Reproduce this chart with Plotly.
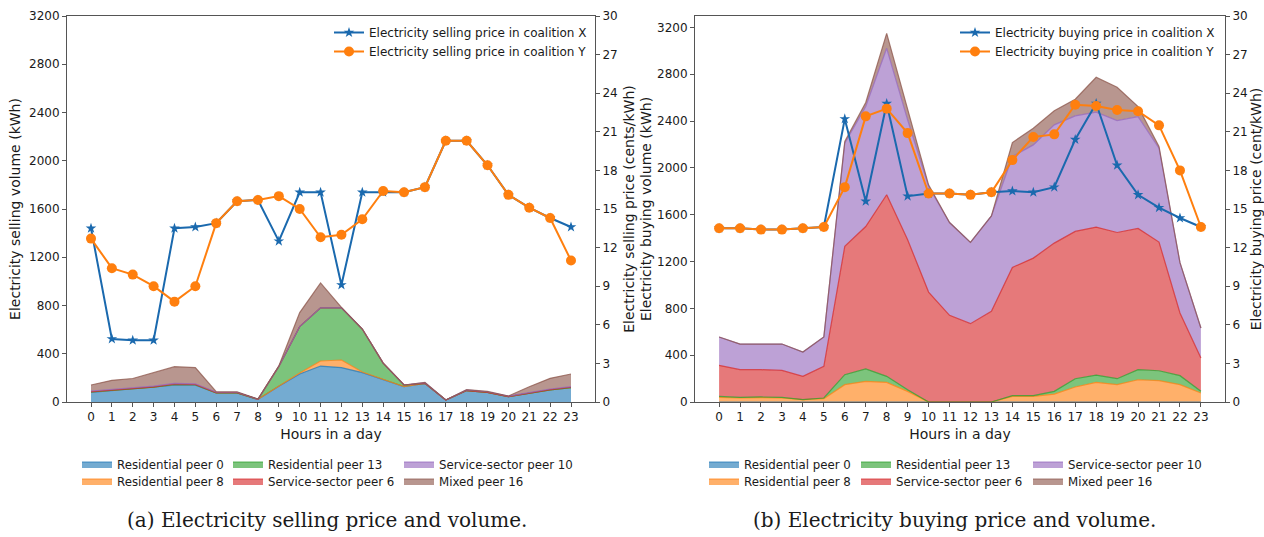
import plotly.graph_objects as go

hours = list(range(24))
hour_labels = [str(h) for h in hours]

# Prices (cents/kWh)
sell_price_x = [13.5, 4.9, 4.8, 4.8, 13.5, 13.6, 13.9, 15.6, 15.7, 12.5, 16.3, 16.3, 9.1, 16.3,
                16.3, 16.3, 16.7, 20.3, 20.3, 18.4, 16.1, 15.1, 14.3, 13.6]
sell_price_y = [12.7, 10.4, 9.9, 9.0, 7.8, 9.0, 13.9, 15.6, 15.7, 16.0, 15.0, 12.8, 13.0, 14.2,
                16.4, 16.3, 16.7, 20.3, 20.3, 18.4, 16.1, 15.1, 14.3, 11.0]
buy_price_x = [13.5, 13.5, 13.4, 13.4, 13.5, 13.6, 22.0, 15.6, 23.2, 16.0, 16.2, 16.2, 16.1, 16.3,
               16.4, 16.3, 16.7, 20.4, 23.2, 18.4, 16.1, 15.1, 14.3, 13.6]
buy_price_y = [13.5, 13.5, 13.4, 13.4, 13.5, 13.6, 16.7, 22.2, 22.8, 20.9, 16.2, 16.2, 16.1, 16.3,
               18.8, 20.6, 20.8, 23.1, 23.0, 22.7, 22.6, 21.5, 18.0, 13.6]

# Selling volumes (kWh)
sell_peer0 = [80, 95, 105, 120, 140, 140, 75, 75, 22, 130, 232, 298, 285, 243, 185, 127, 155, 17, 95, 80, 45, 72, 100, 120]
sell_peer8 = [3, 3, 3, 3, 5, 3, 0, 0, 0, 0, 8, 42, 63, 6, 0, 0, 0, 0, 0, 0, 0, 0, 0, 0]
sell_peer13 = [0, 0, 0, 0, 0, 0, 0, 0, 0, 165, 385, 440, 432, 356, 138, 14, 0, 0, 0, 0, 0, 0, 0, 0]
sell_peer6 = [3, 3, 3, 3, 5, 3, 3, 3, 0, 0, 0, 0, 0, 0, 0, 0, 0, 0, 0, 0, 0, 3, 3, 3]
sell_peer10 = [5, 5, 5, 5, 5, 5, 3, 3, 0, 0, 0, 0, 0, 0, 0, 0, 5, 0, 5, 5, 3, 5, 5, 5]
sell_peer16 = [50, 74, 79, 112, 138, 134, 4, 4, 3, 3, 116, 207, 5, 0, 0, 0, 2, 0, 2, 3, 2, 47, 88, 104]

# Buying volumes (kWh)
buy_peer0 = [0] * 24
buy_peer8 = [40, 34, 37, 34, 20, 28, 148, 176, 168, 91, 0, 0, 0, 0, 48, 48, 68, 128, 168, 148, 190, 182, 148, 77]
buy_peer13 = [8, 6, 6, 6, 0, 6, 85, 106, 51, 14, 0, 0, 0, 0, 6, 6, 23, 71, 62, 51, 86, 85, 77, 14]
buy_peer6 = [265, 236, 233, 230, 199, 270, 1096, 1217, 1551, 1281, 939, 740, 669, 774, 1095, 1175, 1266, 1258,
             1264, 1249, 1206, 1099, 535, 285]
buy_peer10 = [242, 219, 219, 225, 208, 251, 882, 1025, 1251, 1024, 902, 793, 694, 816, 948, 967, 1010, 987,
              981, 956, 956, 802, 430, 256]
buy_peer16 = [0, 0, 0, 0, 0, 0, 14, 34, 128, 85, 14, 0, 0, 0, 119, 143, 120, 142, 299, 284, 85, 14, 0, 0]

peer_names = ["Residential peer 0", "Residential peer 8", "Residential peer 13",
              "Service-sector peer 6", "Service-sector peer 10", "Mixed peer 16"]
peer_rgb = [(31, 119, 180), (255, 127, 14), (44, 160, 44), (214, 39, 40), (148, 103, 189), (140, 86, 75)]
# legend grid (matplotlib 3 columns x 2 rows, column-major)
col_of_peer = [0, 0, 1, 1, 2, 2]
row_of_peer = [0, 1, 0, 1, 0, 1]

sell_layers = [sell_peer0, sell_peer8, sell_peer13, sell_peer6, sell_peer10, sell_peer16]
buy_layers = [buy_peer0, buy_peer8, buy_peer13, buy_peer6, buy_peer10, buy_peer16]

BLUE = "#1a69ae"
ORANGE = "#ff7f0e"
AX = "#555555"
TXT = "#1a1a1a"

# plot area in pixels: left [67,595], right [695,1225], y [16,402]
ML, MR, MT, MB = 67, 39, 16, 135
W, H = 1264, 537
PW = W - ML - MR
PH = H - MT - MB


def px(x):
    return (x - ML) / PW


def py(y):
    return (H - MB - y) / PH


fig = go.Figure()

area_leg = dict(bgcolor="rgba(0,0,0,0)", borderwidth=0, font=dict(size=11.8, color=TXT),
                orientation="v", xanchor="left", yanchor="middle", traceorder="normal",
                itemwidth=30)
legend_layouts = {}
leg_idx = 3
for layers, xa, ya, grp, col_x in [
    (sell_layers, "x", "y", "sell", (77, 228, 399)),
    (buy_layers, "x2", "y3", "buy", (704, 856, 1028)),
]:
    for i, vals in enumerate(layers):
        r, g, b = peer_rgb[i]
        leg_name = f"legend{leg_idx}"
        legend_layouts[leg_name] = dict(area_leg, x=px(col_x[col_of_peer[i]]),
                                        y=py((464, 481)[row_of_peer[i]]))
        leg_idx += 1
        fig.add_trace(go.Scatter(
            x=hours, y=vals, name=peer_names[i], mode="lines",
            stackgroup=grp, xaxis=xa, yaxis=ya,
            line=dict(color=f"rgba({r},{g},{b},0.75)", width=1.2),
            fillcolor=f"rgba({r},{g},{b},0.62)",
            legend=leg_name, hoverinfo="skip",
        ))

for p_x, p_y, xa, ya, leg, word in [
    (sell_price_x, sell_price_y, "x", "y2", "legend", "selling"),
    (buy_price_x, buy_price_y, "x2", "y4", "legend2", "buying"),
]:
    fig.add_trace(go.Scatter(
        x=hours, y=p_x, name=f"Electricity {word} price in coalition X", mode="lines+markers",
        xaxis=xa, yaxis=ya, legend=leg,
        line=dict(color=BLUE, width=2), marker=dict(symbol="star", size=8, color=BLUE),
    ))
    fig.add_trace(go.Scatter(
        x=hours, y=p_y, name=f"Electricity {word} price in coalition Y", mode="lines+markers",
        xaxis=xa, yaxis=ya, legend=leg,
        line=dict(color=ORANGE, width=2), marker=dict(symbol="circle", size=10, color=ORANGE),
    ))

axis_common = dict(showline=True, linecolor=AX, linewidth=1, ticks="outside", ticklen=4,
                   tickcolor=AX, showgrid=False, zeroline=False,
                   tickfont=dict(size=12, color=TXT, family="DejaVu Sans"))
title_font = dict(size=14, color=TXT, family="DejaVu Sans")

x_common = dict(axis_common, range=[-1.15, 24.15], tickmode="array", tickvals=hours,
                ticktext=hour_labels, mirror=True,
                title=dict(text="Hours in a day", font=title_font, standoff=5))

fig.update_layout(
    width=W, height=H, paper_bgcolor="white", plot_bgcolor="white",
    margin=dict(l=ML, r=MR, t=MT, b=MB, autoexpand=False),
    font=dict(family="DejaVu Sans", size=12, color=TXT),
    xaxis=dict(x_common, domain=[0, px(595)], anchor="y"),
    xaxis2=dict(x_common, domain=[px(695), 1], anchor="y3"),
    yaxis=dict(axis_common, domain=[0, 1], anchor="x", range=[0, 3200],
               tickvals=list(range(0, 3201, 400)),
               title=dict(text="Electricity selling volume (kWh)", font=title_font, standoff=5)),
    yaxis2=dict(axis_common, overlaying="y", side="right", anchor="x", range=[0, 30],
                tickvals=list(range(0, 31, 3)),
                title=dict(text="Electricity selling price (cents/kWh)", font=title_font, standoff=7)),
    yaxis3=dict(axis_common, domain=[0, 1], anchor="x2", range=[0, 3297],
                tickvals=list(range(0, 3201, 400)),
                title=dict(text="Electricity buying volume (kWh)", font=title_font, standoff=2)),
    yaxis4=dict(axis_common, overlaying="y3", side="right", anchor="x2", range=[0, 30],
                tickvals=list(range(0, 31, 3)),
                title=dict(text="Electricity buying price (cent/kWh)", font=title_font, standoff=7)),
    showlegend=True,
)

price_leg = dict(bgcolor="rgba(0,0,0,0)", borderwidth=0, font=dict(size=12, color=TXT),
                 xanchor="right", yanchor="top", traceorder="normal", tracegroupgap=0,
                 itemwidth=30)
fig.update_layout(
    legend=dict(price_leg, x=px(592), y=py(18)),
    legend2=dict(price_leg, x=px(1220), y=py(18)),
    **legend_layouts,
)

cap_font = dict(family="DejaVu Serif", size=20, color=TXT)
fig.add_annotation(text="(a) Electricity selling price and volume.", x=px(327), y=py(520),
                   xref="paper", yref="paper", showarrow=False, font=cap_font,
                   xanchor="center", yanchor="middle")
fig.add_annotation(text="(b) Electricity buying price and volume.", x=px(955), y=py(520),
                   xref="paper", yref="paper", showarrow=False, font=cap_font,
                   xanchor="center", yanchor="middle")

fig.write_html("out.html")
